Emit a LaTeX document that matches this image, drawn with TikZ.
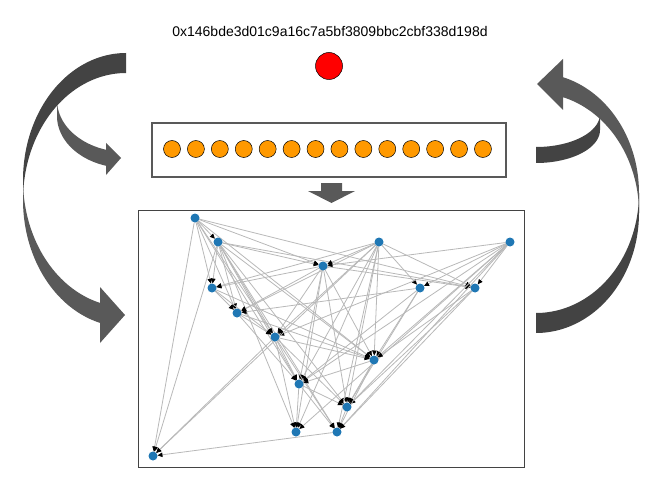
\documentclass[tikz,border=0pt]{standalone}
\usepackage{fontspec}
\setmainfont{Liberation Sans}
\usetikzlibrary{arrows.meta}
\pgfdeclarelayer{bg}
\pgfsetlayers{bg,main}
\definecolor{dkg}{HTML}{434343}
\definecolor{ltg}{HTML}{595959}
\definecolor{nodeblue}{HTML}{1F77B4}
\definecolor{orng}{HTML}{FF9900}
\tikzset{
  gn/.style={circle,fill=nodeblue,minimum size=9pt,inner sep=0pt,outer sep=0pt},
  ge/.style={draw=black!28,line width=0.8pt,-{Triangle[length=5pt,width=4.5pt,color=black]}},
  bead/.style={circle,fill=orng,draw=black,line width=0.5pt,minimum size=17pt,inner sep=0pt},
  boxline/.style={draw=ltg,line width=1.4pt}
}
\begin{document}
\begin{tikzpicture}[x=1pt,y=-1pt]
\useasboundingbox (0,0) rectangle (656,492);
% title and red dot
\node (hash) at (330,31) {\fontsize{14}{17}\selectfont 0x146bde3d01c9a16c7a5bf3809bbc2cbf338d198d};
\node[circle,fill=red,draw=black,line width=0.5pt,minimum size=27pt,inner sep=0pt] (dot) at (329,66) {};
% list box
\node[boxline,minimum width=354pt,minimum height=54pt,inner sep=0pt] (listbox) at (329,150) {};
\foreach \i in {0,...,13} \node[bead] (b\i) at ({172+23.92*\i},149) {};
% down arrow
\fill[ltg] (321,183) -- (342,183) -- (342,191) -- (355,191) -- (331.5,203) -- (308,191) -- (321,191) -- cycle;
% graph box
\node[draw=dkg,line width=1pt,minimum width=386pt,minimum height=257pt,inner sep=0pt] (gbox) at (331,338.5) {};
% small left arrow
\fill[ltg] plot[domain=180:106.85,samples=40,variable=\t] ({126+69*cos(\t)},{100+52*sin(\t)})
  -- (106,143) -- (121,158) -- (106,175)
  -- plot[domain=106.85:180,samples=40,variable=\t] ({126+69*cos(\t)},{116+52*sin(\t)}) -- cycle;
% big left arrow
\fill[dkg] plot[domain=270:180,samples=50,variable=\t] ({126+103*cos(\t)},{180+127*sin(\t)})
  -- plot[domain=180:270,samples=50,variable=\t] ({126+103*cos(\t)},{200+127*sin(\t)}) -- cycle;
\fill[ltg] plot[domain=180:104.6,samples=50,variable=\t] ({126+103*cos(\t)},{180+127*sin(\t)})
  -- (100,287) -- (125,315) -- (100,343)
  -- plot[domain=104.6:180,samples=50,variable=\t] ({126+103*cos(\t)},{200+127*sin(\t)}) -- cycle;
% small right arrow
\fill[dkg] plot[domain=90:0,samples=40,variable=\t] ({536+64*cos(\t)},{130+33*sin(\t)})
  -- plot[domain=0:90,samples=40,variable=\t] ({536+64*cos(\t)},{114+33*sin(\t)}) -- cycle;
% big right arrow
\fill[dkg] plot[domain=90:0,samples=50,variable=\t] ({536+103*cos(\t)},{213+120*sin(\t)})
  -- plot[domain=0:90,samples=50,variable=\t] ({536+103*cos(\t)},{193+120*sin(\t)}) -- cycle;
\fill[ltg] plot[domain=0:-74.8,samples=50,variable=\t] ({536+103*cos(\t)},{213+120*sin(\t)})
  -- (563,110) -- (537,84) -- (563,59)
  -- plot[domain=-74.8:0,samples=50,variable=\t] ({536+103*cos(\t)},{193+120*sin(\t)}) -- cycle;
% graph nodes
\node[gn] (vA) at (195,218) {};
\node[gn] (vB) at (218,242) {};
\node[gn] (vC) at (323,266) {};
\node[gn] (vD) at (379,242) {};
\node[gn] (vE) at (510,242) {};
\node[gn] (vF) at (212,288) {};
\node[gn] (vG) at (237,313) {};
\node[gn] (vH) at (420,288) {};
\node[gn] (vI) at (475,288) {};
\node[gn] (vJ) at (275,337) {};
\node[gn] (vK) at (374,360) {};
\node[gn] (vL) at (299,384) {};
\node[gn] (vM) at (347,407) {};
\node[gn] (vN) at (296,432) {};
\node[gn] (vO) at (337,432) {};
\node[gn] (vP) at (153,456) {};
\begin{pgfonlayer}{bg}
\foreach \u/\v in {A/B,A/C,A/I,A/F,A/G,A/J,A/L,A/P,A/K,
  B/C,B/I,B/F,B/G,B/J,B/L,B/K,B/M,B/O,B/P,B/N,
  C/F,C/G,C/J,C/I,C/L,C/N,C/M,C/K,
  D/C,D/H,D/I,D/F,D/J,D/L,D/K,D/M,D/N,D/O,D/G,
  E/C,E/H,E/I,E/K,E/M,E/O,E/N,E/L,E/J,
  F/G,F/J,F/K,G/J,G/L,G/K,
  H/K,H/M,H/L,H/G,I/K,I/M,I/O,
  J/L,J/K,J/M,J/N,J/O,K/M,K/O,K/L,
  L/N,L/M,L/O,M/O,O/P,J/P,D/P}
  \draw[ge] (v\u) -- (v\v);
\end{pgfonlayer}
\end{tikzpicture}
\end{document}
